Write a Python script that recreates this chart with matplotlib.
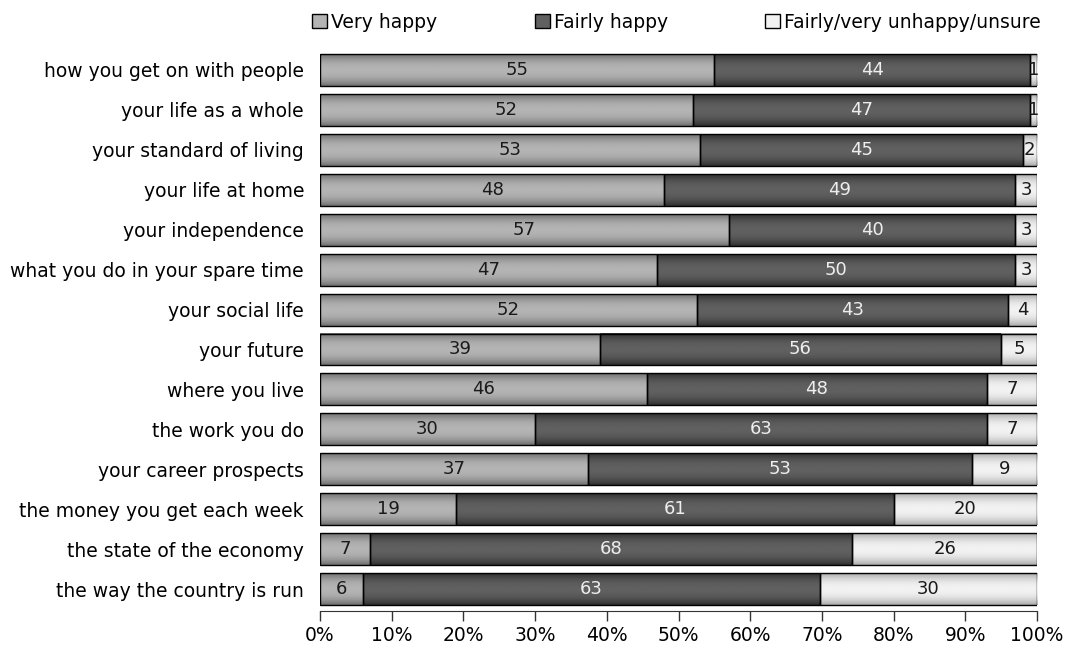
import numpy as np
import matplotlib.pyplot as plt
from matplotlib.colors import LinearSegmentedColormap
from matplotlib.patches import Patch

# Itens avaliados (de cima para baixo)
itens = ["how you get on with people", "your life as a whole", "your standard of living",
         "your life at home", "your independence", "what you do in your spare time",
         "your social life", "your future", "where you live", "the work you do",
         "your career prospects", "the money you get each week",
         "the state of the economy", "the way the country is run"]

muito_feliz = [55, 52, 53, 48, 57, 47, 52, 39, 46, 30, 37, 19, 7, 6]
feliz = [44, 47, 45, 49, 40, 50, 43, 56, 48, 63, 53, 61, 68, 63]
infeliz = [1, 1, 2, 3, 3, 3, 4, 5, 7, 7, 9, 20, 26, 30]

series = ["Very happy", "Fairly happy", "Fairly/very unhappy/unsure"]
ticks_x = [0, 10, 20, 30, 40, 50, 60, 70, 80, 90, 100]

plt.rcParams['font.family'] = ['DejaVu Sans']

# Cores: (borda, centro) do degradê de cada série
cores = [("#6e6e6e", "#b4b4b4"), ("#2e2e2e", "#606060"), ("#a8a8a8", "#f2f2f2")]
cor_texto = ["#1a1a1a", "#eeeeee", "#1a1a1a"]

fig = plt.figure(figsize=(10.66, 6.51), dpi=100)
ax = fig.add_axes([0.3002, 0.0614, 0.6726, 0.8618])

dados = np.array([muito_feliz, feliz, infeliz], dtype=float)
perc = dados / dados.sum(axis=0) * 100
y = np.arange(len(itens))

t = np.linspace(0, 1, 64)
perfil = 1 - np.abs(2 * t - 1) ** 2.2
grad = perfil.reshape(-1, 1)

esquerda = np.zeros(len(itens))
for k in range(3):
    barras = ax.barh(y, perc[k], left=esquerda, height=0.8, color=cores[k][1],
                     edgecolor="black", linewidth=1.0, zorder=3)
    cmap = LinearSegmentedColormap.from_list("g%d" % k, cores[k])
    for r in barras:
        x0, y0, w, h = r.get_x(), r.get_y(), r.get_width(), r.get_height()
        ax.imshow(grad, extent=[x0, x0 + w, y0 + h, y0], aspect="auto", cmap=cmap,
                  vmin=0, vmax=1, zorder=2, interpolation="bilinear")
        r.set_facecolor("none")
    for i in range(len(itens)):
        ax.text(esquerda[i] + perc[k][i] / 2, y[i], "%d" % dados[k][i], ha="center",
                va="center", fontsize=13, color=cor_texto[k], zorder=4)
    esquerda += perc[k]

ax.set_xlim(0, 100)
ax.set_ylim(len(itens) - 1 + 0.55, -0.5)
ax.set_yticks(y)
ax.set_yticklabels(itens, fontsize=13.5)
ax.tick_params(axis="y", length=0, pad=11.5)
ax.set_xticks(ticks_x)
ax.set_xticklabels(["%d%%" % v for v in ticks_x], fontsize=13.5)
ax.tick_params(axis="x", length=7, width=1, pad=4, direction="out", color="#333333")
for lado in ["top", "right", "left"]:
    ax.spines[lado].set_visible(False)
ax.spines["bottom"].set_color("#333333")

# Legenda: cada item numa posição fixa no topo
posicoes = [0.2927, 0.5019, 0.7176]
for k in range(3):
    fig.legend([Patch(facecolor=cores[k][1], edgecolor="black", linewidth=1)],
               [series[k]], loc="center left", bbox_to_anchor=(posicoes[k], 0.966),
               frameon=False, fontsize=13.5, handlelength=0.8, handleheight=0.8,
               handletextpad=0.2, borderpad=0, borderaxespad=0)

fig.savefig("out.png", dpi=100)
